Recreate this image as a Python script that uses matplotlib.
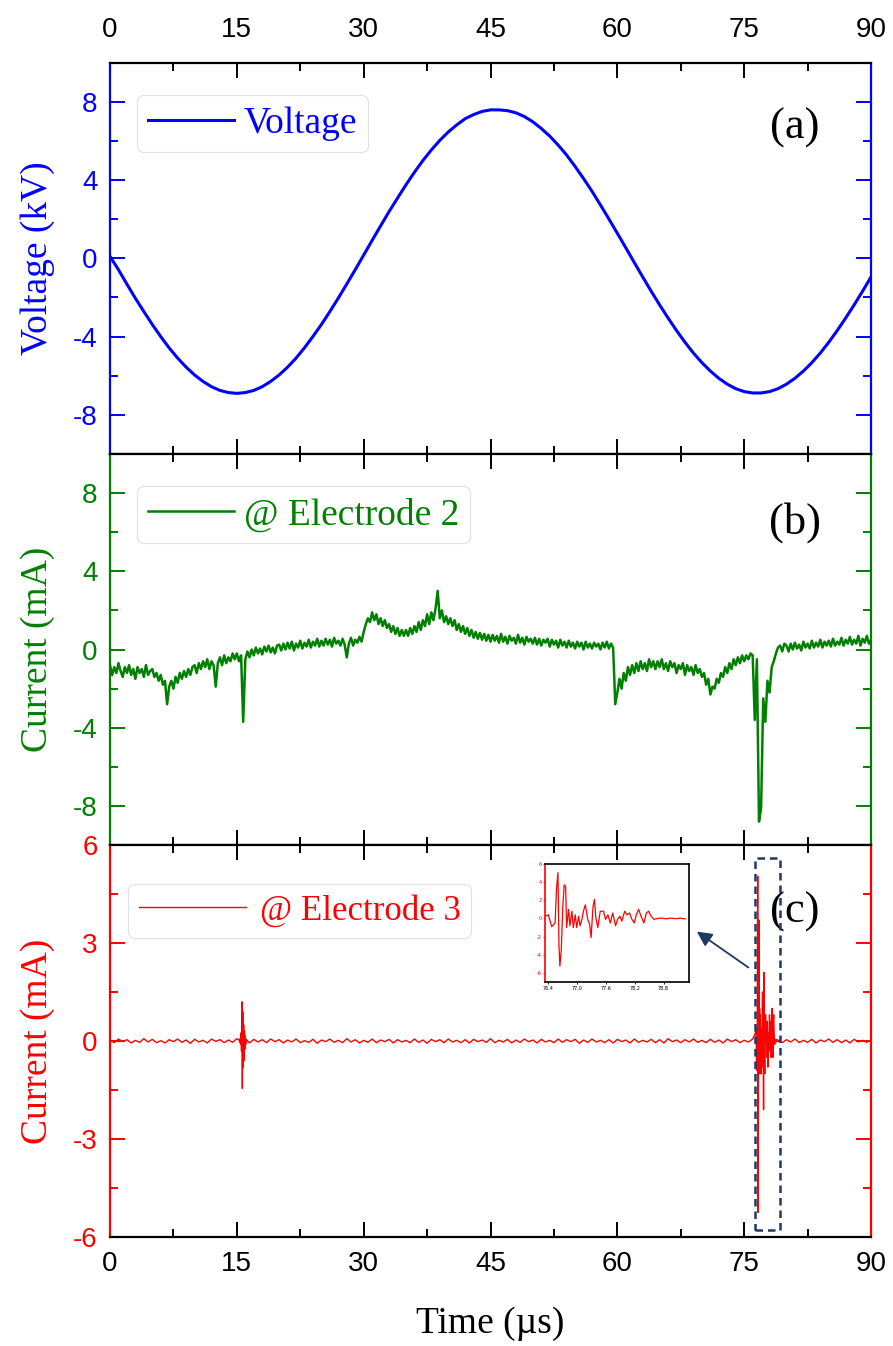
import numpy as np
import matplotlib
matplotlib.use("Agg")
import matplotlib.pyplot as plt
from matplotlib.patches import Rectangle

plt.rcParams["axes.unicode_minus"] = False

SERIF = "Liberation Serif"
SANS = "Liberation Sans"

time_ticks = [0, 15, 30, 45, 60, 75, 90]

# (a) applied voltage in kV, one sample per microsecond
voltage_t = np.arange(0, 91, 1.0)
voltage_kv = [
    0.10, -0.58, -1.32, -2.04, -2.72, -3.38, -4.00, -4.58, -5.10, -5.56,
    -5.96, -6.29, -6.56, -6.75, -6.86, -6.90, -6.86, -6.75, -6.56, -6.29,
    -5.96, -5.56, -5.10, -4.57, -3.99, -3.38, -2.72, -2.03, -1.31, -0.58,
    0.17, 0.92, 1.66, 2.39, 3.08, 3.76, 4.40, 5.00, 5.54, 6.03,
    6.46, 6.82, 7.14, 7.35, 7.51, 7.59, 7.59, 7.55, 7.44, 7.25,
    6.98, 6.64, 6.25, 5.79, 5.28, 4.70, 4.08, 3.43, 2.73, 2.01,
    1.28, 0.54, -0.21, -0.95, -1.68, -2.38, -3.05, -3.69, -4.29, -4.84,
    -5.33, -5.76, -6.13, -6.43, -6.66, -6.81, -6.88, -6.88, -6.81, -6.66,
    -6.43, -6.13, -5.76, -5.33, -4.84, -4.29, -3.69, -3.05, -2.38, -1.68,
    -0.95,
]

# (b) current at electrode 2 in mA, sampled every 0.25 us
current2_t = np.arange(0, 90.01, 0.25)
current2_ma = [
    -0.8, -1.3, -0.9, -1.2, -0.7, -1.1, -1.4, -0.9, -1.2, -0.8, -1.3, -1.0, -1.5, -0.9, -1.2, -1.0, -1.4, -0.8, -1.3, -1.1,
    -1.0, -1.4, -1.2, -1.6, -1.3, -1.8, -1.6, -2.8, -1.9, -1.6, -2.0, -1.4, -1.7, -1.2, -1.5, -1.1, -1.4, -1.0, -1.3, -0.9,
    -0.8, -1.2, -0.7, -1.0, -0.6, -0.9, -0.5, -1.0, -0.6, -0.8, -1.9, -0.7, -0.4, -0.8, -0.3, -0.7, -0.4, -0.6, -0.2, -0.5,
    -0.2, -0.6, -0.3, -3.7, -0.5, -0.1, -0.4, 0.0, -0.3, 0.1, -0.2, 0.05, -0.25, 0.15, -0.1, 0.2, -0.15, 0.1, -0.2, 0.2,
    0.25, -0.05, 0.3, 0.0, 0.35, 0.05, 0.4, -0.05, 0.3, 0.1, 0.45, 0.05, 0.35, 0.15, 0.5, 0.1, 0.4, 0.2, 0.55, 0.15,
    0.45, 0.2, 0.55, 0.25, 0.5, 0.15, 0.6, 0.3, 0.45, 0.2, 0.55, 0.25, -0.4, 0.3, 0.6, 0.2, 0.5, 0.35, 0.65, 0.4,
    0.9, 1.3, 1.6, 1.4, 1.9, 1.5, 1.8, 1.3, 1.6, 1.2, 1.5, 1.1, 1.3, 0.9, 1.2, 0.8, 1.1, 0.7, 1.0, 0.7,
    1.0, 0.7, 1.1, 0.8, 1.2, 0.9, 1.4, 1.0, 1.5, 1.2, 1.8, 1.3, 1.9, 1.5, 2.1, 3.0, 1.6, 2.0, 1.4, 1.7,
    1.3, 1.6, 1.2, 1.5, 1.0, 1.3, 0.9, 1.2, 0.8, 1.1, 0.7, 1.0, 0.6, 0.9, 0.55, 0.85, 0.5, 0.8, 0.45, 0.75,
    0.4, 0.75, 0.45, 0.7, 0.35, 0.8, 0.4, 0.65, 0.3, 0.7, 0.45, 0.6, 0.3, 0.75, 0.35, 0.6, 0.25, 0.65, 0.4, 0.55,
    0.3, 0.6, 0.25, 0.55, 0.2, 0.5, 0.35, 0.55, 0.15, 0.5, 0.25, 0.45, 0.1, 0.5, 0.2, 0.4, 0.1, 0.45, 0.15, 0.35,
    0.05, 0.4, 0.15, 0.35, 0.0, 0.4, 0.1, 0.3, 0.05, 0.35, 0.15, 0.3, 0.0, 0.35, 0.1, 0.4, 0.05, 0.3, 0.1, -2.8,
    -2.2, -1.5, -2.0, -1.2, -1.6, -0.9, -1.3, -0.8, -1.2, -0.7, -1.1, -0.6, -1.0, -0.7, -1.1, -0.5, -0.9, -0.6, -1.0, -0.6,
    -0.9, -0.5, -1.0, -0.7, -1.1, -0.6, -0.9, -0.7, -1.2, -0.8, -1.0, -0.7, -1.3, -0.8, -1.1, -0.9, -1.3, -0.8, -1.2, -1.0,
    -1.4, -1.2, -1.8, -1.5, -2.3, -1.9, -2.0, -1.5, -1.7, -1.2, -1.4, -0.9, -1.2, -0.7, -1.0, -0.5, -0.8, -0.4, -0.7, -0.3,
    -0.6, -0.3, -0.5, -0.2, -0.3, -3.6, -0.5, -8.8, -8.1, -2.5, -3.7, -1.6, -2.2, -0.9, -0.6, -0.2, 0.1, 0.2, -0.1, 0.3,
    0.2, -0.1, 0.3, 0.0, 0.35, 0.05, 0.25, -0.05, 0.4, 0.1, 0.3, 0.05, 0.45, 0.1, 0.35, 0.15, 0.5, 0.1, 0.4, 0.2,
    0.45, 0.15, 0.55, 0.2, 0.4, 0.25, 0.6, 0.2, 0.5, 0.3, 0.65, 0.25, 0.5, 0.3, 0.7, 0.2, 0.55, 0.35, 0.7, 0.3,
    0.5,
]

# (c) current at electrode 3 in mA: quiet baseline every 0.5 us ...
current3_base_t = np.arange(0, 90.01, 0.5)
current3_base_ma = [
    0.03, -0.05, 0.06, -0.02, 0.04, -0.06, 0.02, -0.04, 0.07, -0.03, 0.05, -0.05, 0.01, -0.06, 0.04, -0.02, 0.06, -0.04, 0.03, -0.07,
    0.05, -0.03, 0.02, -0.06, 0.06, -0.01, 0.04, -0.05, 0.03, -0.04, 0.07, -0.02, 0.02, -0.06, 0.05, -0.03, 0.04, -0.05, 0.06, -0.02,
    0.04, -0.06, 0.03, -0.03, 0.06, -0.05, 0.01, -0.04, 0.05, -0.07, 0.03, -0.02, 0.06, -0.04, 0.02, -0.05, 0.07, -0.03, 0.04, -0.06,
    0.02, -0.04, 0.06, -0.05, 0.03, -0.02, 0.05, -0.06, 0.04, -0.03, 0.02, -0.05, 0.06, -0.04, 0.03, -0.07, 0.05, -0.02, 0.04, -0.05,
    0.06, -0.03, 0.02, -0.05, 0.04, -0.06, 0.05, -0.02, 0.03, -0.04, 0.07, -0.05, 0.02, -0.03, 0.05, -0.06, 0.03, -0.04, 0.06, -0.02,
    0.03, -0.06, 0.05, -0.03, 0.02, -0.05, 0.06, -0.04, 0.04, -0.02, 0.05, -0.07, 0.03, -0.04, 0.06, -0.03, 0.02, -0.05, 0.04, -0.06,
    0.05, -0.02, 0.03, -0.06, 0.06, -0.04, 0.02, -0.03, 0.05, -0.05, 0.04, -0.06, 0.07, -0.02, 0.03, -0.05, 0.04, -0.03, 0.06, -0.04,
    0.02, -0.05, 0.05, -0.04, 0.03, -0.06, 0.06, -0.02, 0.04, -0.05, 0.02, -0.03, 0.06, -0.06, 0.05, -0.04, 0.03, -0.02, 0.05, -0.05,
    0.04, -0.03, 0.06, -0.05, 0.02, -0.04, 0.05, -0.06, 0.03, -0.02, 0.06, -0.04, 0.04, -0.05, 0.03, -0.06, 0.05, -0.03, 0.02, -0.04,
    0.03,
]
# ... the small discharge near 15.6 us ...
burst1_t = [15.30, 15.35, 15.40, 15.45, 15.50, 15.55, 15.60, 15.65, 15.70,
            15.75, 15.80, 15.85, 15.90, 15.95, 16.00, 16.05, 16.10]
burst1_ma = [0.02, -0.05, 0.08, -0.10, 0.25, -0.30, 1.20, -1.45, 0.90,
             -0.80, 0.50, -0.60, 0.30, -0.25, 0.15, -0.10, 0.05]
# ... and the main discharge near 76.6 us (also shown in the inset)
burst2_t = [76.33, 76.40, 76.47, 76.54, 76.57, 76.60, 76.62, 76.64, 76.67, 76.70,
            76.73, 76.76, 76.78, 76.82, 76.85, 76.89, 76.92, 76.96, 76.99, 77.03,
            77.06, 77.10, 77.13, 77.17, 77.22, 77.26, 77.29, 77.33, 77.36, 77.39,
            77.43, 77.48, 77.55, 77.59, 77.64, 77.69, 77.74, 77.80, 77.84, 77.89,
            77.93, 77.99, 78.04, 78.09, 78.14, 78.19, 78.23, 78.28, 78.33, 78.39,
            78.44, 78.49, 78.54, 78.60, 78.67, 78.75, 78.85, 78.95, 79.05, 79.15,
            79.25]
burst2_ma = [0.25, 0.40, -0.90, -0.50, 3.30, 5.05, -2.80, -5.25, -3.40, 1.30,
             3.70, 3.50, -1.00, 1.00, -0.80, 0.80, -1.00, 0.40, -1.00, 0.25,
             -0.80, -0.10, 0.80, 1.50, -0.10, -0.65, -2.10, 1.30, 2.10, 0.07,
             -1.00, 0.80, 0.80, -0.10, 0.40, -0.50, 0.60, -0.80, -0.10, 0.25,
             -0.30, 0.80, 0.40, 0.60, -0.10, -0.50, 0.40, 1.00, 0.25, -0.50,
             0.60, 0.80, 0.25, -0.10, 0.00, 0.05, -0.03, 0.04, -0.02, 0.03,
             -0.04]

inset_xticks = [76.4, 77.0, 77.6, 78.2, 78.8]
inset_yticks = [-6, -4, -2, 0, 2, 4, 6]

BLUE = "#0000ff"
GREEN = "#008000"
RED = "#ff0000"
NAVY = "#1f3864"

# merge the quiet baseline with the two discharge bursts
base_t = np.asarray(current3_base_t)
base_i = np.asarray(current3_base_ma)
keep = ~(((base_t >= 15.25) & (base_t <= 16.15)) | ((base_t >= 76.3) & (base_t <= 79.3)))
c3_t = np.concatenate([base_t[keep], burst1_t, burst2_t])
c3_i = np.concatenate([base_i[keep], burst1_ma, burst2_ma])
order = np.argsort(c3_t)
c3_t, c3_i = c3_t[order], c3_i[order]

fig = plt.figure(figsize=(8.93, 13.46), dpi=100)
left, width = 0.1232, 0.8522
ax_a = fig.add_axes([left, 0.6627, width, 0.2907])
ax_b = fig.add_axes([left, 0.3722, width, 0.2905])
ax_c = fig.add_axes([left, 0.0810, width, 0.2912])


def style_panel(ax, color, ylim, yticks, yminor, ylabel):
    ax.set_xlim(0, 90)
    ax.set_ylim(*ylim)
    ax.set_xticks(time_ticks)
    ax.set_xticks(np.arange(7.5, 90, 15), minor=True)
    ax.set_yticks(yticks)
    ax.set_yticks(yminor, minor=True)
    ax.set_yticklabels([f"{v:g}" for v in yticks])
    for side in ("left", "right"):
        ax.spines[side].set_color(color)
    for side in ax.spines:
        ax.spines[side].set_linewidth(1.6)
    ax.tick_params(which="both", direction="in", top=True, right=True,
                   width=1.4, labelbottom=False)
    ax.tick_params(which="major", length=10.5)
    ax.tick_params(which="minor", length=5.5)
    ax.tick_params(axis="y", which="both", colors=color, labelsize=20, pad=9)
    ax.tick_params(axis="x", which="both", colors="black", labelsize=20)
    for lab in ax.get_yticklabels() + ax.get_xticklabels():
        lab.set_fontfamily(SANS)
    ax.set_ylabel(ylabel, color=color, fontsize=27, fontfamily=SERIF)
    ax.yaxis.set_label_coords(-0.072, 0.5)


def add_legend(ax, line, text, color, anchor, hlen=2.3, hpad=0.25, size=27):
    leg = ax.legend([line], [text], loc="upper left", bbox_to_anchor=anchor,
                    borderaxespad=0, frameon=True, fancybox=True,
                    handlelength=hlen, handletextpad=hpad, borderpad=0.3,
                    prop={"family": SERIF, "size": size})
    leg.get_frame().set_edgecolor("#d9d9d9")
    leg.get_frame().set_linewidth(0.8)
    for t in leg.get_texts():
        t.set_color(color)
    return leg


# (a) voltage
ln_a, = ax_a.plot(voltage_t, voltage_kv, color=BLUE, lw=2.2)
style_panel(ax_a, BLUE, (-10, 10), [-8, -4, 0, 4, 8], [-6, -2, 2, 6], "Voltage (kV)")
ax_a.tick_params(axis="x", labeltop=True, pad=14)
for lab in ax_a.get_xticklabels():
    lab.set_fontfamily(SANS)
add_legend(ax_a, ln_a, "Voltage", BLUE, (0.035, 0.917))
ax_a.text(0.90, 0.833, "(a)", transform=ax_a.transAxes, ha="center", va="center",
          fontsize=32, fontfamily=SERIF)

# (b) electrode 2 current
ln_b, = ax_b.plot(current2_t, current2_ma, color=GREEN, lw=1.8)
style_panel(ax_b, GREEN, (-10, 10), [-8, -4, 0, 4, 8], [-6, -2, 2, 6], "Current (mA)")
add_legend(ax_b, ln_b, "@ Electrode 2", GREEN, (0.035, 0.917))
ax_b.text(0.90, 0.826, "(b)", transform=ax_b.transAxes, ha="center", va="center",
          fontsize=32, fontfamily=SERIF)

# (c) electrode 3 current
ln_c, = ax_c.plot(c3_t, c3_i, color=RED, lw=1.0)
style_panel(ax_c, RED, (-6, 6), [-6, -3, 0, 3, 6], [-4.5, -1.5, 1.5, 4.5], "Current (mA)")
ax_c.tick_params(axis="x", labelbottom=True, pad=10)
for lab in ax_c.get_xticklabels():
    lab.set_fontfamily(SANS)
ax_c.set_xlabel("Time (\u00b5s)", fontsize=27, fontfamily=SERIF, labelpad=21)
add_legend(ax_c, ln_c, "@ Electrode 3", RED, (0.024, 0.90), hlen=3.1, hpad=0.38, size=25)
ax_c.text(0.90, 0.829, "(c)", transform=ax_c.transAxes, ha="center", va="center",
          fontsize=32, fontfamily=SERIF)

# dashed frame around the main discharge
ax_c.add_patch(Rectangle((76.28, -5.78), 2.95, 11.38, fill=False, ec=NAVY,
                         lw=1.8, ls=(0, (3, 2)), zorder=5))

# inset with the discharge waveform
ax_in = fig.add_axes([0.6103, 0.2704, 0.1613, 0.0877])
ax_in.plot(burst2_t, burst2_ma, color=RED, lw=0.9)
ax_in.set_xlim(76.33, 79.33)
ax_in.set_ylim(-7, 6)
ax_in.set_xticks(inset_xticks)
ax_in.set_xticklabels([f"{v:.1f}" for v in inset_xticks])
ax_in.set_yticks(inset_yticks)
for side in ax_in.spines:
    ax_in.spines[side].set_linewidth(1.2)
ax_in.spines["left"].set_color(RED)
ax_in.tick_params(which="both", direction="out", length=1.5, width=0.6, labelsize=3.5, pad=1)
ax_in.tick_params(axis="y", colors=RED)

# arrow from the framed burst to the inset
ax_c.annotate("", xy=(69.4, 3.35), xytext=(75.5, 2.25),
              arrowprops=dict(arrowstyle="-|>,head_length=0.9,head_width=0.45",
                              color=NAVY, lw=1.3, shrinkA=0, shrinkB=0))

fig.savefig("out.png", dpi=100)
